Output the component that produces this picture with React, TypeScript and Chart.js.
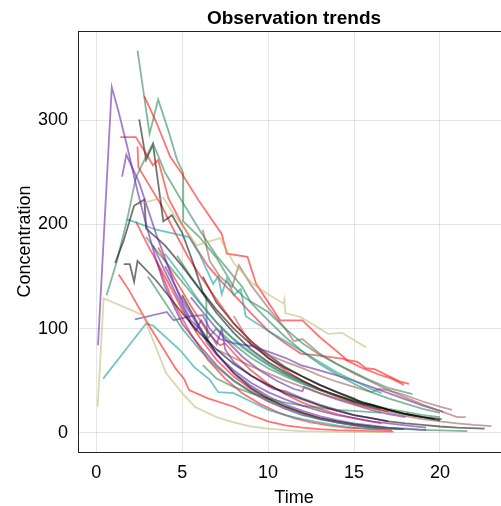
import { useEffect, useRef } from 'react';
import { Chart, registerables } from 'chart.js';
Chart.register(...registerables);

const xTicks = [0, 5, 10, 15, 20];
const yTicks = [0, 100, 200, 300];

const red1 = [[2.8,323],[3.5,298],[4.3,265],[4.9,251],[6,222],[7.3,191],[7.6,172],[8.8,169],[9.3,143],[10.7,108],[12,108],[13,92],[14.6,70],[15.2,68],[15.7,62],[16.2,61],[17.7,49],[18.2,47]];
const red2 = [[1.4,284],[2.3,284],[2.9,268],[3.3,257],[3.6,262],[4.2,225],[5,200],[5.8,178],[6.5,160],[7.3,145],[8,133],[9,115],[10,98],[11,86],[11.9,76],[13,74],[14.4,71],[15.5,62],[16.6,55],[17.2,52],[17.9,46]];
const red3 = [[2.4,275],[2.45,255],[3,240],[3.8,218],[4.5,195],[5.3,170],[6,152],[7,128],[8,105],[9,88],[10,72],[11,60],[12,50],[13,42],[14,35],[15,29],[16,24],[17,20]];
const red4 = [[1.3,152],[1.9,137],[3,105],[4.6,62],[5.1,52],[5.4,41],[6.5,33],[8,25],[9,17],[10,11],[11,7],[12,5],[13,3.5],[14,2.5],[15,2],[16,1.5],[17.3,1]];
const red5 = [[2.3,203],[3,180],[4,150],[5,118],[6,92],[7,70],[8,54],[9,42],[10,32],[11,25],[12,19],[13,14],[14,10],[15,7],[16,5],[16.8,4]];
const red6 = [[3.6,178],[4.5,150],[5.5,122],[6.5,96],[7.2,84],[7.5,86],[8.2,73],[9,60],[10,47],[11,37],[12,29],[13,23],[14,18],[15,14],[16,11],[16.6,9]];
const red7 = [[3.5,165],[4.5,125],[5.5,95],[6.5,70],[7.5,52],[8.5,38],[9.5,28],[10.5,20],[11.5,14],[12.5,10],[13.5,7],[14.5,5],[15.5,4],[16.5,3],[17.2,2.5]];

const green1 = [[2.4,367],[3.1,287],[3.6,320],[4.2,290],[4.7,262],[5.05,250],[5.06,203],[6,188],[7,168],[8,140],[8.6,130],[9.4,122],[10,116],[11,100],[12,86],[13,75],[14,66],[15,58],[16,50],[17,43],[18.4,37]];
const green2 = [[0.6,132],[1.2,165],[1.8,205],[2.3,245],[2.8,262],[3.3,278],[4,250],[5,222],[6,195],[7,170],[7.5,160],[8,150],[8.5,140],[9,125],[10,108],[11,92],[12,78],[13,66],[14,56],[15,47],[16,39],[17,33],[18,28],[19,23],[20,19]];
const green3 = [[2.9,188],[3.5,175],[4.5,155],[5.5,135],[6.5,115],[7.5,97],[8.5,82],[9.5,70],[10.5,60],[11.5,52],[12.5,45],[13.5,38],[14.5,33],[15.5,28],[16.5,23]];
const green4 = [[3,150],[4,125],[5,100],[6,80],[7,63],[8,50],[9,40],[10,31],[11,24],[12,18],[13,13],[14,10],[15,7],[16,5.5],[17,4.5],[18,3.5],[19,2.8],[20,2.2],[21.6,1.5]];
const green5 = [[6.2,65],[7,52],[8,44],[9,38],[10,33],[11,29],[12,26],[13,24],[14,22],[15,21],[16.6,19]];
const green6 = [[4.7,170],[5.5,150],[6.4,130],[6.45,90],[7,100],[8,85],[9,72],[10,62],[11,54],[12,47],[13,41],[14,36],[15,31],[16,27],[17,23],[18,20],[19,17],[20,15]];

const purple1 = [[0.1,84],[0.9,332],[1.3,308],[1.8,275],[2.4,232],[2.9,200],[3.5,165],[4,140],[4.5,122],[5,105],[5.6,92],[6.2,80],[7,65],[8,50],[9,39],[10,30],[11,23],[12,17],[13,13],[14,10],[15,7.5],[16,5.5],[17,4],[17.8,3.5]];
const purple2 = [[1.5,246],[1.75,267],[2.5,240],[3,215],[3.5,190],[4,168],[4.5,145],[5,125],[5.5,108],[6,100],[6.5,85],[7,75],[8,60],[9,48],[10,39],[11,32],[12,26],[13,21],[14,17],[15,14],[16,11],[17,9],[18,7],[19.2,5]];
const purple3 = [[2.25,109],[4.1,116],[4.5,108],[5.5,112],[6.2,113],[6.6,100],[7.2,90],[8,86],[9.1,83],[10,78],[11,72],[11.9,65],[13,60],[14,55],[14.8,51],[16,44],[17,38],[18,32],[19,26],[20.2,20]];
const purple4 = [[3.3,180],[4,155],[4.8,128],[5.5,105],[5.8,98],[6.1,108],[6.5,98],[7,85],[7.3,100],[7.5,80],[8,68],[9,55],[10,45],[10.3,42],[11,40],[12,33],[13,27],[14,22],[15,17],[16,14],[17,11]];
const purple5 = [[4,160],[5,128],[6,100],[7,76],[8,58],[9,45],[10,35],[11,27],[12,21],[13,16],[14,12],[15,9],[16,7],[17,5],[18,4],[19.2,2.5]];
const purple6 = [[5.5,130],[6.5,110],[7.5,90],[8.5,73],[9.5,60],[10.5,50],[11.5,42],[12,40],[12.1,44],[13,38],[14,32],[15,27],[16,22],[17,18],[18,15]];

const teal1 = [[0.4,52],[2.9,105],[3.3,103],[4.9,79],[5.7,63],[6.6,51],[7.1,39],[8,38],[9,30],[10,22],[11,17],[12,13],[13,10],[14,7],[15,5],[16,4],[16.5,3.5]];
const teal2 = [[1.8,205],[3.5,195],[5.4,188],[6,172],[6.8,143],[7.1,150],[7.3,133],[7.6,148],[8,132],[8.4,138],[8.7,112],[10,98],[11,88],[12,78],[13,68],[14,58],[15,50],[16,42],[16.6,38]];
const teal3 = [[4,172],[5,150],[6,126],[7,106],[8,90],[9,77],[10,66],[11,56],[12,48],[13,41],[14,35],[15,29],[16.5,23]];

const gray1 = [[2.5,301],[2.9,262],[3.3,277],[3.6,240],[3.9,203],[4.4,209],[5,192],[5.6,165],[6.2,135],[7,118],[8,100],[9,85],[10,72],[11,62],[12,54],[13,46],[14,39],[15,32],[16,27],[17,22],[18,18],[19,15],[19.7,13]];
const gray2 = [[1.1,163],[1.6,185],[2.2,218],[2.8,224],[2.9,196],[4,180],[5,160],[6,138],[7,115],[8,96],[9,80],[10,68],[11,58],[12,50],[13,42],[14,36],[15,30],[16,26],[17,22],[18,18],[19,15],[20.1,13]];
const gray3 = [[1.6,162],[1.95,162],[2.2,145],[2.4,165],[3.5,146],[5,115],[6,96],[7,80],[8,66],[9,55],[10,46],[11,38],[12,32],[13,26],[14,21],[15,17],[16,14],[17,11],[18,9],[19,7.5],[20,6],[21,5],[22.6,4]];
const gray4 = [[5,132],[6,102],[7,76],[8,57],[9,43],[10,33],[11,25],[12,19],[13,14],[14,11],[15,8],[16,6],[17,4.5],[17.9,3.5]];
const gray5 = [[6.2,150],[7,125],[8,105],[9,88],[10,75],[11,63],[12,54],[13,46],[14,39],[15,33],[15.5,28],[16,27],[17,22],[18,18],[19,15],[20,12]];

const khaki1 = [[0.08,25],[0.43,129],[2.72,113],[4.07,57],[5,38],[5.73,25],[7,15],[8,10],[9,6],[10,4],[11,2.5],[12,1.5],[14,1],[16.7,0.5]];
const khaki2 = [[2.4,219],[3.0,222],[3.9,226],[4.5,210],[5.2,195],[5.85,180],[7.2,187],[8,163],[9.1,143],[10,133],[10.9,124],[10.95,128],[11,115],[11.9,111],[13.5,95],[14.3,96],[15.7,82]];

const brown1 = [[6.2,195],[6.6,165],[7.2,150],[7.9,140],[8.3,161],[9,142],[10,120],[11,100],[11.5,88],[12,90],[13,76],[14,66],[15,57],[16,49],[17,41],[18,34],[19,27],[20,21],[21,15],[21.5,15]];
const brown2 = [[8,112],[9,85],[10,75],[11,68],[12,62],[13,55],[14,49],[15,44],[16,39],[16.5,42],[17,41],[18,36],[19,30],[20,25],[20.7,22]];
const brown3 = [[7,80],[8,72],[9,64],[10,57],[11,50],[12,44],[13,38],[14,33],[15,28],[16,24],[17,20],[18,16],[19,13],[20,11],[21,9],[22,7.5],[23,6.4]];

const RED = 'rgba(255,0,0,0.55)';
const GREEN = 'rgba(46,139,87,0.6)';
const PURPLE = 'rgba(100,40,170,0.6)';
const TEAL = 'rgba(20,160,160,0.6)';
const GRAY = 'rgba(0,0,0,0.55)';
const KHAKI = 'rgba(189,183,107,0.55)';
const BROWN = 'rgba(160,95,95,0.6)';

const series: [number[][], string][] = [
  [khaki1, KHAKI], [red4, RED], [green4, GREEN], [purple1, PURPLE], [teal1, TEAL],
  [gray3, GRAY], [khaki2, KHAKI], [red1, RED], [green1, GREEN], [purple2, PURPLE],
  [gray2, GRAY], [brown1, BROWN], [teal2, TEAL], [red2, RED], [green2, GREEN],
  [purple3, PURPLE], [gray1, GRAY], [red3, RED], [green3, GREEN], [purple4, PURPLE],
  [teal3, TEAL], [brown2, BROWN], [gray4, GRAY], [red5, RED], [green5, GREEN],
  [purple5, PURPLE], [gray5, GRAY], [red6, RED], [brown3, BROWN], [green6, GREEN],
  [purple6, PURPLE], [red7, RED],
];

const FONT = "'Liberation Sans', Arial, sans-serif";

export default function App() {
  const ref = useRef<HTMLCanvasElement>(null);
  useEffect(() => {
    document.body.style.margin = '0';
    document.body.style.overflow = 'hidden';
    const canvas = ref.current!;
    const framePlugin = {
      id: 'frame',
      afterDraw(chart: any) {
        const { ctx, chartArea: a } = chart;
        ctx.save();
        ctx.strokeStyle = '#222';
        ctx.lineWidth = 1;
        ctx.strokeRect(a.left + 0.5, a.top + 0.5, a.right - a.left - 1, a.bottom - a.top);
        ctx.fillStyle = '#000';
        ctx.textAlign = 'center';
        ctx.textBaseline = 'alphabetic';
        ctx.font = `bold 19px ${FONT}`;
        const cx = (a.left + a.right) / 2;
        ctx.fillText('Observation trends', cx, 24);
        ctx.font = `18px ${FONT}`;
        ctx.fillText('Time', cx, 503);
        ctx.translate(29.5, (a.top + a.bottom) / 2);
        ctx.rotate(-Math.PI / 2);
        ctx.fillText('Concentration', 0, 0);
        ctx.restore();
      },
    };
    const chart = new Chart(canvas, {
      type: 'line',
      data: {
        datasets: series.map(([d, c]) => ({
          data: d.map(([x, y]) => ({ x, y })),
          borderColor: c,
          borderWidth: 1.8,
          pointRadius: 0,
          fill: false,
          tension: 0,
        })),
      },
      options: {
        responsive: false,
        animation: false,
        layout: { padding: { top: 31, left: 0, right: 0, bottom: 0 } },
        plugins: { legend: { display: false }, tooltip: { enabled: false }, title: { display: false } },
        scales: {
          x: {
            type: 'linear',
            min: -1.065,
            max: 24.08,
            afterFit: (s: any) => { s.height = 54; },
            afterBuildTicks: (s: any) => { s.ticks = xTicks.map((v) => ({ value: v })); },
            ticks: { includeBounds: false, color: '#000', font: { size: 18, family: FONT }, padding: 10, maxRotation: 0 },
            grid: { color: 'rgba(0,0,0,0.1)', drawTicks: false, tickLength: 0 },
            border: { display: false },
          },
          y: {
            type: 'linear',
            min: -18.5,
            max: 385.9,
            afterFit: (s: any) => { s.width = 78; },
            afterBuildTicks: (s: any) => { s.ticks = yTicks.map((v) => ({ value: v })); },
            ticks: { includeBounds: false, color: '#000', font: { size: 18, family: FONT }, padding: 10 },
            grid: { color: 'rgba(0,0,0,0.1)', drawTicks: false, tickLength: 0 },
            border: { display: false },
          },
        },
      },
      plugins: [framePlugin],
    } as any);
    return () => chart.destroy();
  }, []);
  return <canvas ref={ref} width={510} height={506} style={{ display: 'block' }} />;
}
